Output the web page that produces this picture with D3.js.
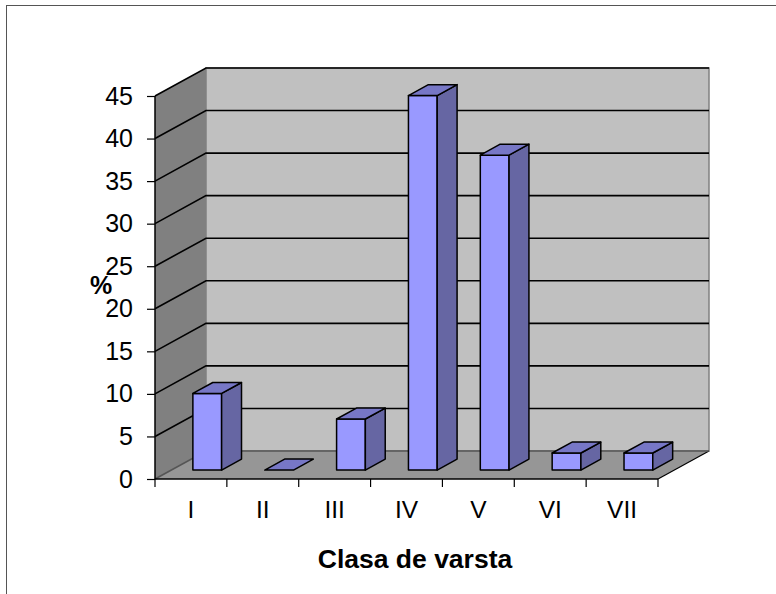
<!DOCTYPE html>
<html>
<head>
<meta charset="utf-8">
<script src="https://cdn.jsdelivr.net/npm/d3@7"></script>
<style>
body { margin: 0; background: #fff; }
svg { display: block; }
text { font-family: "Liberation Sans", Arial, sans-serif; }
</style>
</head>
<body>
<svg id="chart" width="776" height="594"></svg>
<script>
var categories = ["I", "II", "III", "IV", "V", "VI", "VII"];
var values = [9, 0, 6, 44, 37, 2, 2];
var yTicks = [0, 5, 10, 15, 20, 25, 30, 35, 40, 45];

function render() {
    var svg = d3.select("#chart");

    // frame round the chart area
    svg.append("rect")
        .attr("x", 6.5).attr("y", 5.5)
        .attr("width", 800).attr("height", 620)
        .attr("fill", "none")
        .attr("stroke", "#555")
        .attr("stroke-width", 1);

    var xLeft = 155, xRight = 658, yBottom = 479, yTop = 96;
    var DX = 51, DY = 28;     // depth of the 3d box
    var d1 = 0.32, d2 = 0.71; // front and back of the bars inside the depth

    var xs = d3.scaleBand().domain(categories).range([xLeft, xRight]);
    var ys = d3.scaleLinear().domain([0, 45]).range([yBottom, yTop]);

    // side wall
    svg.append("polygon")
        .attr("points", [[xLeft, ys(45)], [xLeft + DX, ys(45) - DY], [xLeft + DX, ys(0) - DY], [xLeft, ys(0)]].join(" "))
        .attr("fill", "#808080");

    // back wall
    svg.append("rect")
        .attr("x", xLeft + DX).attr("y", ys(45) - DY)
        .attr("width", xRight - xLeft).attr("height", ys(0) - ys(45))
        .attr("fill", "#c0c0c0")
        .attr("stroke", "#808080").attr("stroke-width", 1.5);

    // floor
    svg.append("polygon")
        .attr("points", [[xLeft, ys(0)], [xRight, ys(0)], [xRight + DX, ys(0) - DY], [xLeft + DX, ys(0) - DY]].join(" "))
        .attr("fill", "#969696");

    svg.append("line")
        .attr("x1", xRight).attr("y1", ys(0))
        .attr("x2", xRight + DX).attr("y2", ys(0) - DY)
        .attr("stroke", "#000").attr("stroke-width", 1.2);

    // gridlines on side and back walls
    var grid = svg.append("g").attr("stroke-width", 1.6).attr("fill", "none");
    yTicks.forEach(function(t) {
        var y = ys(t);
        grid.append("polyline")
            .attr("points", [[xLeft, y], [xLeft + DX, y - DY], [xRight + DX, y - DY]].join(" "))
            .attr("stroke", t == 0 ? "#555" : "#000");
    });

    // y axis
    var yAxis = d3.axisLeft(ys).tickValues(yTicks).tickSize(8).tickPadding(14);
    var gy = svg.append("g").attr("transform", "translate(" + xLeft + ",0)").call(yAxis);
    gy.select(".domain").attr("stroke", "#000").attr("stroke-width", 1.5).attr("d", "M0," + ys(45) + "V" + ys(0));
    gy.selectAll(".tick line").attr("stroke", "#000").attr("stroke-width", 1.2);
    gy.selectAll(".tick text").attr("fill", "#000").style("font-size", "25px")
        .style("font-family", "'Liberation Sans', Arial, sans-serif");

    // x axis: labels at centres, ticks at band edges
    var xAxis = d3.axisBottom(xs).tickSize(0).tickPadding(22);
    var gx = svg.append("g").attr("transform", "translate(0," + yBottom + ")").call(xAxis);
    gx.select(".domain").attr("stroke", "#000").attr("stroke-width", 1.5).attr("d", "M" + xLeft + ",0H" + xRight);
    gx.selectAll(".tick text").attr("fill", "#000").style("font-size", "24.5px")
        .style("font-family", "'Liberation Sans', Arial, sans-serif");
    var edges = categories.map(function(c) { return xs(c); }).concat([xRight]);
    gx.selectAll(".edge").data(edges).enter().append("line")
        .attr("class", "edge")
        .attr("x1", function(d) { return d; }).attr("x2", function(d) { return d; })
        .attr("y1", 0).attr("y2", 8)
        .attr("stroke", "#000").attr("stroke-width", 1.2);

    // bars
    var bw = xs.bandwidth() * 0.4;
    var ox1 = d1 * DX, oy1 = d1 * DY, ox2 = d2 * DX, oy2 = d2 * DY;
    var bars = svg.append("g").attr("stroke", "#000").attr("stroke-width", 1.5).attr("stroke-linejoin", "round");
    categories.forEach(function(c, i) {
        var x0 = xs(c) + (xs.bandwidth() - bw) / 2, x1 = x0 + bw;
        var yt = ys(values[i]), yb = ys(0);
        if (values[i] > 0) {
            bars.append("polygon")
                .attr("points", [[x0 + ox1, yt - oy1], [x1 + ox1, yt - oy1], [x1 + ox1, yb - oy1], [x0 + ox1, yb - oy1]].join(" "))
                .attr("fill", "#9999ff");
            bars.append("polygon")
                .attr("points", [[x1 + ox1, yt - oy1], [x1 + ox2, yt - oy2], [x1 + ox2, yb - oy2], [x1 + ox1, yb - oy1]].join(" "))
                .attr("fill", "#6666a3");
        }
        bars.append("polygon")
            .attr("points", [[x0 + ox1, yt - oy1], [x1 + ox1, yt - oy1], [x1 + ox2, yt - oy2], [x0 + ox2, yt - oy2]].join(" "))
            .attr("fill", "#7777c6");
    });

    // axis titles
    svg.append("text")
        .attr("x", 101).attr("y", 294)
        .attr("text-anchor", "middle")
        .style("font-size", "25px").style("font-weight", "bold")
        .text("%");

    svg.append("text")
        .attr("x", 415).attr("y", 568)
        .attr("text-anchor", "middle")
        .style("font-size", "26.5px").style("font-weight", "bold")
        .text("Clasa de varsta");
}

render();
</script>
</body>
</html>
